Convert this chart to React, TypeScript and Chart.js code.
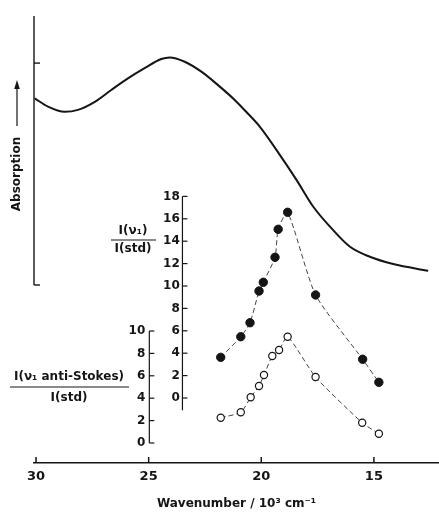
import React, { useEffect, useRef } from 'react';
import { Chart, registerables } from 'chart.js';

Chart.register(...registerables);

// ---- data ----
const wavenumberTicks = [30, 25, 20, 15];

const absorptionWavenumber = [30.06, 29.47, 28.73, 28.14, 27.39, 26.66, 25.92, 25.18, 24.44, 24.07, 23.4, 22.66, 21.92, 21.18, 20.67, 20.06, 19.17, 18.43, 17.69, 16.95, 16.06, 15.18, 14.14, 12.59];
const absorptionValue = [6.94, 6.63, 6.44, 6.51, 6.81, 7.25, 7.68, 8.06, 8.4, 8.46, 8.3, 7.93, 7.43, 6.88, 6.44, 5.88, 4.83, 3.9, 2.91, 2.17, 1.42, 1.05, 0.78, 0.53];
const absorptionAxisMarks = [0, 8.25];

const stokesWavenumber = [21.8, 20.91, 20.5, 20.1, 19.91, 19.39, 19.25, 18.83, 17.59, 15.5, 14.78];
const stokesIntensity = [3.63, 5.47, 6.72, 9.55, 10.33, 12.56, 15.06, 16.58, 9.2, 3.46, 1.4];
const stokesTicks = [0, 2, 4, 6, 8, 10, 12, 14, 16, 18];

const antiStokesWavenumber = [21.8, 20.91, 20.47, 20.1, 19.88, 19.51, 19.21, 18.83, 17.59, 15.52, 14.78];
const antiStokesIntensity = [2.26, 2.74, 4.08, 5.09, 6.07, 7.77, 8.3, 9.49, 5.89, 1.81, 0.83];
const antiStokesTicks = [0, 2, 4, 6, 8, 10];

const FONT = "'DejaVu Sans', sans-serif";
const INK = '#151515';

// axis placements (in wavenumber units; the x scale is reversed, so + moves left)
const STOKES_AXIS_AT = 23.5;
const ANTI_AXIS_AT = 24.97;
const STOKES_LABEL_GAP = 0.12;
const ANTI_LABEL_GAP = 0.18;

const decorations = {
  id: 'decorations',
  afterDraw(chart: any) {
    const { ctx, chartArea } = chart;
    const { x, yA, yS, yAS } = chart.scales;
    const line = (x1: number, y1: number, x2: number, y2: number) => {
      ctx.beginPath();
      ctx.moveTo(x1, y1);
      ctx.lineTo(x2, y2);
      ctx.stroke();
    };
    ctx.save();
    ctx.strokeStyle = INK;
    ctx.fillStyle = INK;
    ctx.lineCap = 'butt';

    // x-axis inward ticks
    ctx.lineWidth = 1.5;
    const base = chartArea.bottom;
    x.ticks.forEach((t: any) => {
      const px = x.getPixelForValue(t.value);
      line(px, base, px, base - 6);
    });

    // absorption axis
    const ax = chartArea.left;
    ctx.lineWidth = 1.4;
    line(ax, yA.getPixelForValue(10), ax, yA.getPixelForValue(0));
    absorptionAxisMarks.forEach((v) => {
      const p = yA.getPixelForValue(v);
      line(ax, p, ax + 6, p);
    });

    // Stokes axis
    ctx.lineWidth = 1.2;
    const sx = x.getPixelForValue(STOKES_AXIS_AT);
    line(sx, yS.getPixelForValue(18), sx, yS.getPixelForValue(-1.1));
    stokesTicks.forEach((v) => {
      const p = yS.getPixelForValue(v);
      line(sx, p, sx + 5, p);
    });

    // anti-Stokes axis
    const asx = x.getPixelForValue(ANTI_AXIS_AT);
    line(asx, yAS.getPixelForValue(10), asx, yAS.getPixelForValue(0));
    antiStokesTicks.forEach((v) => {
      const p = yAS.getPixelForValue(v);
      line(asx, p, asx + 5, p);
    });

    // Absorption label with arrow
    ctx.save();
    ctx.translate(17, 174);
    ctx.rotate(-Math.PI / 2);
    ctx.font = `bold 12px ${FONT}`;
    ctx.textAlign = 'center';
    ctx.textBaseline = 'middle';
    ctx.fillText('Absorption', 0, 0);
    ctx.restore();
    ctx.lineWidth = 1.2;
    line(17, 126, 17, 86);
    ctx.beginPath();
    ctx.moveTo(17, 80);
    ctx.lineTo(14.2, 89);
    ctx.lineTo(19.8, 89);
    ctx.closePath();
    ctx.fill();

    // fraction labels
    ctx.font = `bold 12px ${FONT}`;
    ctx.textAlign = 'center';
    ctx.textBaseline = 'middle';
    ctx.fillText('I(ν₁)', 133, 231);
    ctx.fillText('I(std)', 133, 249);
    ctx.lineWidth = 1;
    line(111, 240, 156, 240);

    ctx.fillText('I(ν₁ anti-Stokes)', 69, 377);
    ctx.fillText('I(std)', 69, 398);
    line(10, 387, 129, 387);

    ctx.restore();
  },
};

export default function App() {
  const ref = useRef<HTMLCanvasElement>(null);
  useEffect(() => {
    const canvas = ref.current!;
    const chart = new Chart(canvas, {
      type: 'scatter',
      data: {
        datasets: [
          {
            label: 'Absorption',
            data: absorptionWavenumber.map((w, i) => ({ x: w, y: absorptionValue[i] })),
            yAxisID: 'yA',
            showLine: true,
            borderColor: INK,
            borderWidth: 2,
            pointRadius: 0,
            cubicInterpolationMode: 'monotone',
          } as any,
          {
            label: 'I(ν1)/I(std)',
            data: stokesWavenumber.map((w, i) => ({ x: w, y: stokesIntensity[i] })),
            yAxisID: 'yS',
            showLine: true,
            borderColor: '#444',
            borderWidth: 1,
            borderDash: [5, 3],
            tension: 0.2,
            pointRadius: 4.2,
            pointBackgroundColor: INK,
            pointBorderColor: INK,
            pointBorderWidth: 1,
          } as any,
          {
            label: 'I(ν1 anti-Stokes)/I(std)',
            data: antiStokesWavenumber.map((w, i) => ({ x: w, y: antiStokesIntensity[i] })),
            yAxisID: 'yAS',
            showLine: true,
            borderColor: '#444',
            borderWidth: 1,
            borderDash: [5, 3],
            tension: 0.2,
            pointRadius: 3.6,
            pointBackgroundColor: '#fff',
            pointBorderColor: INK,
            pointBorderWidth: 1.2,
          } as any,
        ],
      },
      options: {
        animation: false,
        responsive: false,
        layout: { autoPadding: false, padding: { left: 34, top: 16, right: 0, bottom: 0 } },
        plugins: { legend: { display: false }, tooltip: { enabled: false } },
        scales: {
          x: {
            type: 'linear',
            reverse: true,
            min: 12.11,
            max: 30.09,
            afterBuildTicks: (s: any) => {
              s.ticks = wavenumberTicks.map((v) => ({ value: v }));
            },
            afterFit: (s: any) => {
              s.height = 50;
            },
            grid: { display: false, drawTicks: false },
            border: { display: true, color: INK, width: 1.5 },
            ticks: {
              color: INK,
              font: { family: FONT, size: 13, weight: 'bold' },
              padding: 6,
              maxRotation: 0,
              callback: (v: any) => String(v),
            },
            title: {
              display: true,
              text: 'Wavenumber / 10³ cm⁻¹',
              color: INK,
              font: { family: FONT, size: 12, weight: 'bold' },
              padding: { top: 0, bottom: 2 },
            },
          },
          yA: {
            type: 'linear',
            display: false,
            min: -6.617,
            max: 10,
          },
          yS: {
            type: 'linear',
            position: { x: STOKES_AXIS_AT + STOKES_LABEL_GAP } as any,
            min: -5.804,
            max: 34.107,
            afterBuildTicks: (s: any) => {
              s.ticks = stokesTicks.map((v) => ({ value: v }));
            },
            grid: { display: false, drawTicks: false },
            border: { display: false },
            ticks: {
              color: INK,
              font: { family: FONT, size: 12, weight: 'bold' },
              padding: 0,
              callback: (v: any) => String(v),
            },
          },
          yAS: {
            type: 'linear',
            position: { x: ANTI_AXIS_AT + ANTI_LABEL_GAP } as any,
            min: -1.786,
            max: 38.125,
            afterBuildTicks: (s: any) => {
              s.ticks = antiStokesTicks.map((v) => ({ value: v }));
            },
            grid: { display: false, drawTicks: false },
            border: { display: false },
            ticks: {
              color: INK,
              font: { family: FONT, size: 12, weight: 'bold' },
              padding: 0,
              callback: (v: any) => String(v),
            },
          },
        },
      } as any,
      plugins: [decorations],
    });
    return () => chart.destroy();
  }, []);
  return (
    <div style={{ position: 'fixed', left: 0, top: 0, width: 439, height: 513, background: '#fff' }}>
      <canvas ref={ref} width={439} height={513} style={{ display: 'block' }} />
    </div>
  );
}
